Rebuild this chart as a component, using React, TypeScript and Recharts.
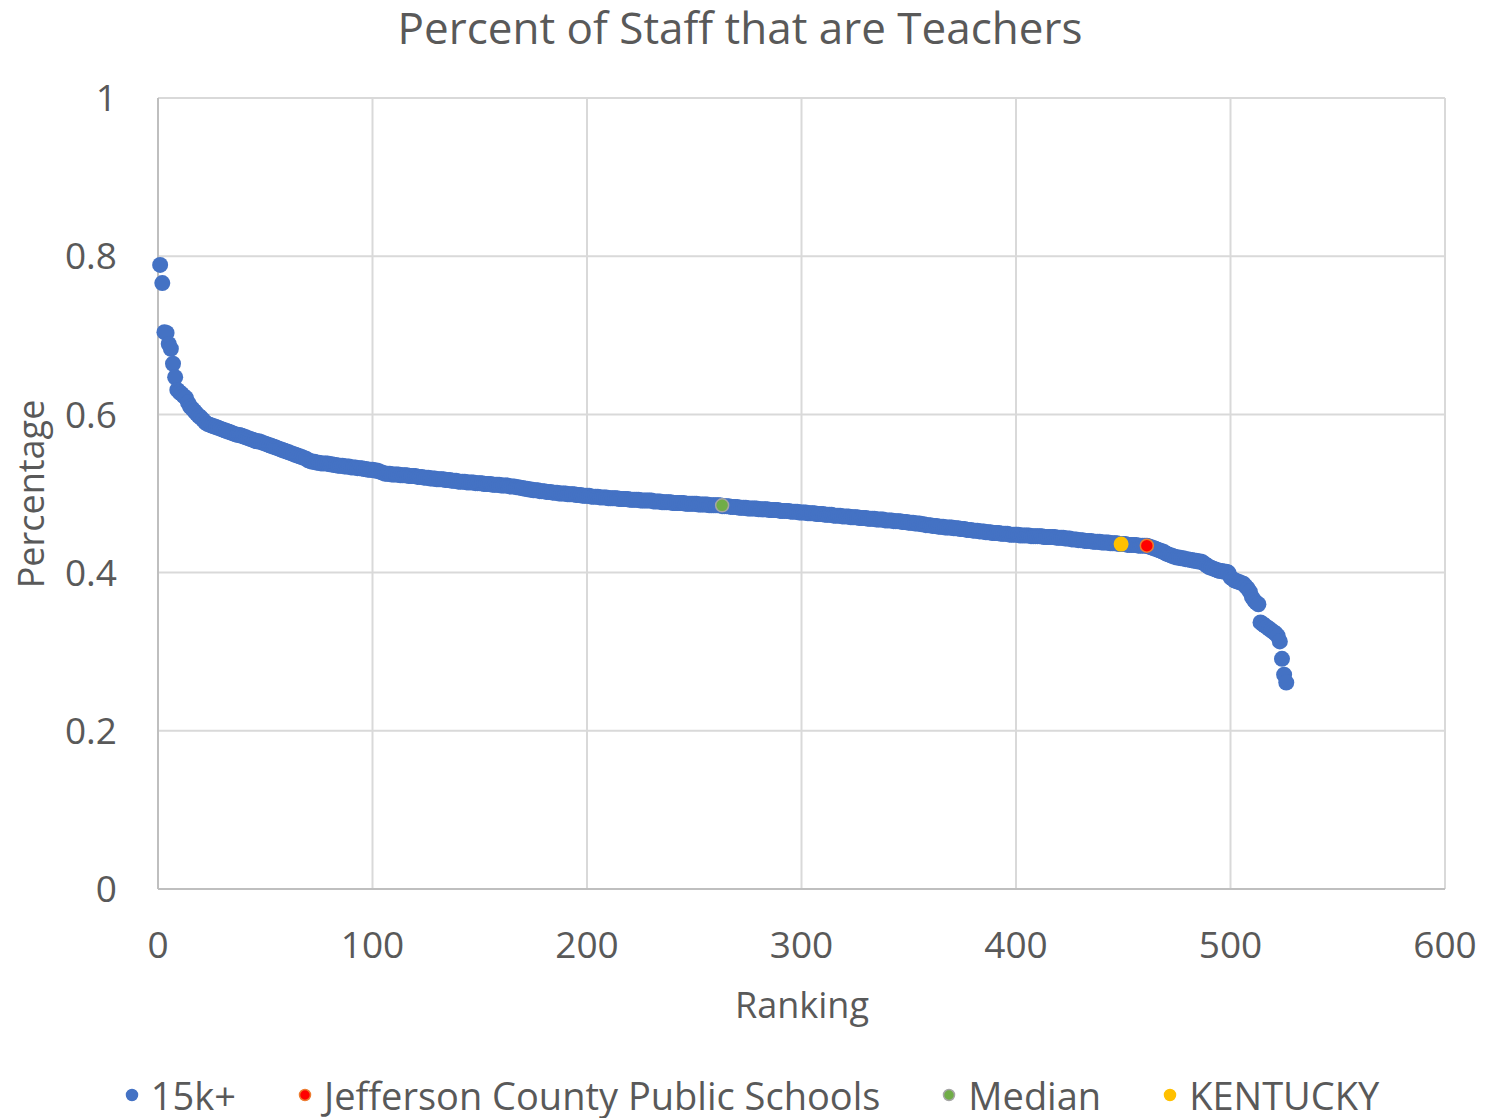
import React from "react";
import { ScatterChart, Scatter, XAxis, YAxis, CartesianGrid } from "recharts";

// share of staff that are teachers, districts with 15k+ students, sorted by rank
const staffShare = [
  0.789, 0.766, 0.704, 0.703, 0.689, 0.683, 0.664, 0.647, 0.631, 0.628,
  0.626, 0.623, 0.621, 0.615, 0.610, 0.607, 0.604, 0.601, 0.598, 0.596,
  0.593, 0.590, 0.588, 0.587, 0.586, 0.585, 0.584, 0.583, 0.582, 0.581,
  0.580, 0.579, 0.578, 0.577, 0.576, 0.575, 0.574, 0.574, 0.573, 0.572,
  0.571, 0.570, 0.569, 0.568, 0.567, 0.566, 0.566, 0.565, 0.564, 0.563,
  0.562, 0.561, 0.560, 0.559, 0.558, 0.557, 0.556, 0.555, 0.554, 0.553,
  0.552, 0.551, 0.550, 0.549, 0.548, 0.547, 0.546, 0.545, 0.544, 0.542,
  0.541, 0.540, 0.540, 0.539, 0.539, 0.538, 0.538, 0.538, 0.538, 0.537,
  0.537, 0.536, 0.536, 0.535, 0.535, 0.535, 0.534, 0.534, 0.534, 0.533,
  0.533, 0.533, 0.532, 0.532, 0.532, 0.531, 0.531, 0.530, 0.530, 0.530,
  0.529, 0.529, 0.528, 0.527, 0.526, 0.525, 0.525, 0.525, 0.524, 0.524,
  0.524, 0.524, 0.523, 0.523, 0.523, 0.523, 0.522, 0.522, 0.522, 0.522,
  0.521, 0.521, 0.521, 0.520, 0.520, 0.520, 0.519, 0.519, 0.519, 0.518,
  0.518, 0.518, 0.518, 0.517, 0.517, 0.517, 0.516, 0.516, 0.516, 0.515,
  0.515, 0.515, 0.515, 0.514, 0.514, 0.514, 0.514, 0.513, 0.513, 0.513,
  0.513, 0.512, 0.512, 0.512, 0.512, 0.511, 0.511, 0.511, 0.511, 0.510,
  0.510, 0.510, 0.510, 0.509, 0.509, 0.509, 0.508, 0.508, 0.507, 0.507,
  0.506, 0.506, 0.505, 0.505, 0.504, 0.504, 0.504, 0.503, 0.503, 0.503,
  0.502, 0.502, 0.502, 0.501, 0.501, 0.501, 0.500, 0.500, 0.500, 0.500,
  0.499, 0.499, 0.499, 0.499, 0.498, 0.498, 0.498, 0.497, 0.497, 0.497,
  0.497, 0.496, 0.496, 0.496, 0.496, 0.495, 0.495, 0.495, 0.495, 0.494,
  0.494, 0.494, 0.494, 0.494, 0.493, 0.493, 0.493, 0.493, 0.493, 0.492,
  0.492, 0.492, 0.492, 0.492, 0.491, 0.491, 0.491, 0.491, 0.491, 0.491,
  0.490, 0.490, 0.490, 0.490, 0.489, 0.489, 0.489, 0.489, 0.489, 0.488,
  0.488, 0.488, 0.488, 0.488, 0.488, 0.487, 0.487, 0.487, 0.487, 0.487,
  0.487, 0.486, 0.486, 0.486, 0.486, 0.486, 0.485, 0.485, 0.485, 0.485,
  0.485, 0.485, 0.484, 0.484, 0.484, 0.484, 0.483, 0.483, 0.483, 0.483,
  0.482, 0.482, 0.482, 0.482, 0.481, 0.481, 0.481, 0.481, 0.481, 0.480,
  0.480, 0.480, 0.480, 0.480, 0.479, 0.479, 0.479, 0.479, 0.479, 0.478,
  0.478, 0.478, 0.478, 0.478, 0.477, 0.477, 0.477, 0.477, 0.476, 0.476,
  0.476, 0.476, 0.475, 0.475, 0.475, 0.475, 0.474, 0.474, 0.474, 0.474,
  0.473, 0.473, 0.473, 0.473, 0.472, 0.472, 0.472, 0.472, 0.471, 0.471,
  0.471, 0.471, 0.470, 0.470, 0.470, 0.470, 0.469, 0.469, 0.469, 0.469,
  0.468, 0.468, 0.468, 0.468, 0.467, 0.467, 0.467, 0.467, 0.466, 0.466,
  0.466, 0.466, 0.465, 0.465, 0.465, 0.465, 0.464, 0.464, 0.464, 0.463,
  0.463, 0.463, 0.462, 0.462, 0.462, 0.461, 0.461, 0.460, 0.460, 0.460,
  0.459, 0.459, 0.459, 0.458, 0.458, 0.458, 0.457, 0.457, 0.457, 0.457,
  0.456, 0.456, 0.456, 0.455, 0.455, 0.455, 0.454, 0.454, 0.454, 0.453,
  0.453, 0.453, 0.452, 0.452, 0.452, 0.451, 0.451, 0.451, 0.450, 0.450,
  0.450, 0.450, 0.449, 0.449, 0.449, 0.449, 0.448, 0.448, 0.448, 0.448,
  0.448, 0.447, 0.447, 0.447, 0.447, 0.447, 0.446, 0.446, 0.446, 0.446,
  0.446, 0.446, 0.445, 0.445, 0.445, 0.445, 0.445, 0.445, 0.444, 0.444,
  0.444, 0.444, 0.443, 0.443, 0.443, 0.442, 0.442, 0.442, 0.441, 0.441,
  0.441, 0.440, 0.440, 0.440, 0.440, 0.439, 0.439, 0.439, 0.439, 0.438,
  0.438, 0.438, 0.438, 0.437, 0.437, 0.437, 0.437, 0.436, 0.436, 0.436,
  0.436, 0.435, 0.435, 0.435, 0.435, 0.435, 0.434, 0.434, 0.434, 0.434,
  0.434, 0.433, 0.432, 0.431, 0.430, 0.429, 0.428, 0.427, 0.426, 0.424,
  0.423, 0.422, 0.421, 0.420, 0.419, 0.419, 0.418, 0.418, 0.417, 0.417,
  0.416, 0.416, 0.415, 0.415, 0.414, 0.414, 0.413, 0.411, 0.409, 0.407,
  0.406, 0.405, 0.404, 0.403, 0.402, 0.402, 0.401, 0.401, 0.400, 0.394,
  0.392, 0.390, 0.389, 0.388, 0.387, 0.386, 0.383, 0.380, 0.376, 0.369,
  0.365, 0.362, 0.360, 0.337, 0.335, 0.333, 0.331, 0.329, 0.327, 0.325,
  0.323, 0.320, 0.313, 0.291, 0.271, 0.261,
];

const jefferson = [{ rank: 461, pct: 0.434 }];
const median = [{ rank: 263, pct: 0.485 }];
const kentucky = [{ rank: 449, pct: 0.436 }];

const xTicks = [0, 100, 200, 300, 400, 500, 600];
const yTicks = [0, 0.2, 0.4, 0.6, 0.8, 1];

const legendItems = [
  { name: "15k+", fill: "#4472c4", stroke: "#4472c4" },
  { name: "Jefferson County Public Schools", fill: "#ff0000", stroke: "#ed7d31" },
  { name: "Median", fill: "#70ad47", stroke: "#a5a5a5" },
  { name: "KENTUCKY", fill: "#ffc000", stroke: "#ffc000" },
];

const FONT = "'Open Sans', sans-serif";
const GREY = "#595959";

const districts = staffShare.map((v, i) => ({ rank: i + 1, pct: v }));

const dot = (r: number, fill: string, stroke?: string) => (props: any) => (
  <circle
    cx={props.cx}
    cy={props.cy}
    r={r}
    fill={fill}
    stroke={stroke || "none"}
    strokeWidth={stroke ? 1.5 : 0}
  />
);

export default function App() {
  return (
    <div
      style={{
        position: "absolute",
        left: 0,
        top: 0,
        width: 1504,
        height: 1118,
        background: "#fff",
        fontFamily: FONT,
        color: GREY,
      }}
    >
      <ScatterChart
        width={1504}
        height={1118}
        margin={{ top: 98, right: 59, bottom: 169, left: 58 }}
      >
        <CartesianGrid stroke="#d9d9d9" strokeWidth={2} />
        <XAxis
          type="number"
          dataKey="rank"
          domain={[0, 600]}
          ticks={xTicks}
          height={60}
          tickLine={false}
          tickMargin={37}
          axisLine={{ stroke: "#bfbfbf", strokeWidth: 2 }}
          tick={{ fill: GREY, fontSize: 37, fontFamily: FONT }}
        />
        <YAxis
          type="number"
          dataKey="pct"
          domain={[0, 1]}
          ticks={yTicks}
          width={100}
          tickLine={false}
          tickMargin={35}
          axisLine={{ stroke: "#bfbfbf", strokeWidth: 2 }}
          tick={{ fill: GREY, fontSize: 37, fontFamily: FONT }}
        />
        <Scatter
          name="15k+"
          data={districts}
          shape={dot(8, "#4472c4")}
          isAnimationActive={false}
        />
        <Scatter
          name="Jefferson County Public Schools"
          data={jefferson}
          shape={dot(6.5, "#ff0000", "#ed7d31")}
          isAnimationActive={false}
        />
        <Scatter
          name="Median"
          data={median}
          shape={dot(6.5, "#70ad47", "#a5a5a5")}
          isAnimationActive={false}
        />
        <Scatter
          name="KENTUCKY"
          data={kentucky}
          shape={dot(7.5, "#ffc000")}
          isAnimationActive={false}
        />
      </ScatterChart>

      <div
        style={{
          position: "absolute",
          left: 0,
          top: 4,
          width: 1480,
          textAlign: "center",
          fontSize: 44,
          lineHeight: "46px",
          whiteSpace: "nowrap",
        }}
      >
        Percent of Staff that are Teachers
      </div>

      <div
        style={{
          position: "absolute",
          left: 0,
          top: 984,
          width: 1604,
          textAlign: "center",
          fontSize: 36,
          lineHeight: "42px",
        }}
      >
        Ranking
      </div>
      <div
        style={{
          position: "absolute",
          left: 31,
          top: 494,
          transform: "translate(-50%, -50%) rotate(-90deg)",
          fontSize: 36,
          lineHeight: "42px",
          whiteSpace: "nowrap",
        }}
      >
        Percentage
      </div>

      <div
        style={{
          position: "absolute",
          left: 0,
          top: 1074,
          width: 1504,
          display: "flex",
          justifyContent: "center",
          gap: 62,
          fontSize: 38,
          lineHeight: "42px",
        }}
      >
        {legendItems.map((it) => (
          <div key={it.name} style={{ display: "flex", alignItems: "center" }}>
            <svg width={14} height={14} style={{ marginRight: 12 }}>
              <circle cx={7} cy={7} r={5.5} fill={it.fill} stroke={it.stroke} strokeWidth={1.5} />
            </svg>
            <span>{it.name}</span>
          </div>
        ))}
      </div>
    </div>
  );
}
